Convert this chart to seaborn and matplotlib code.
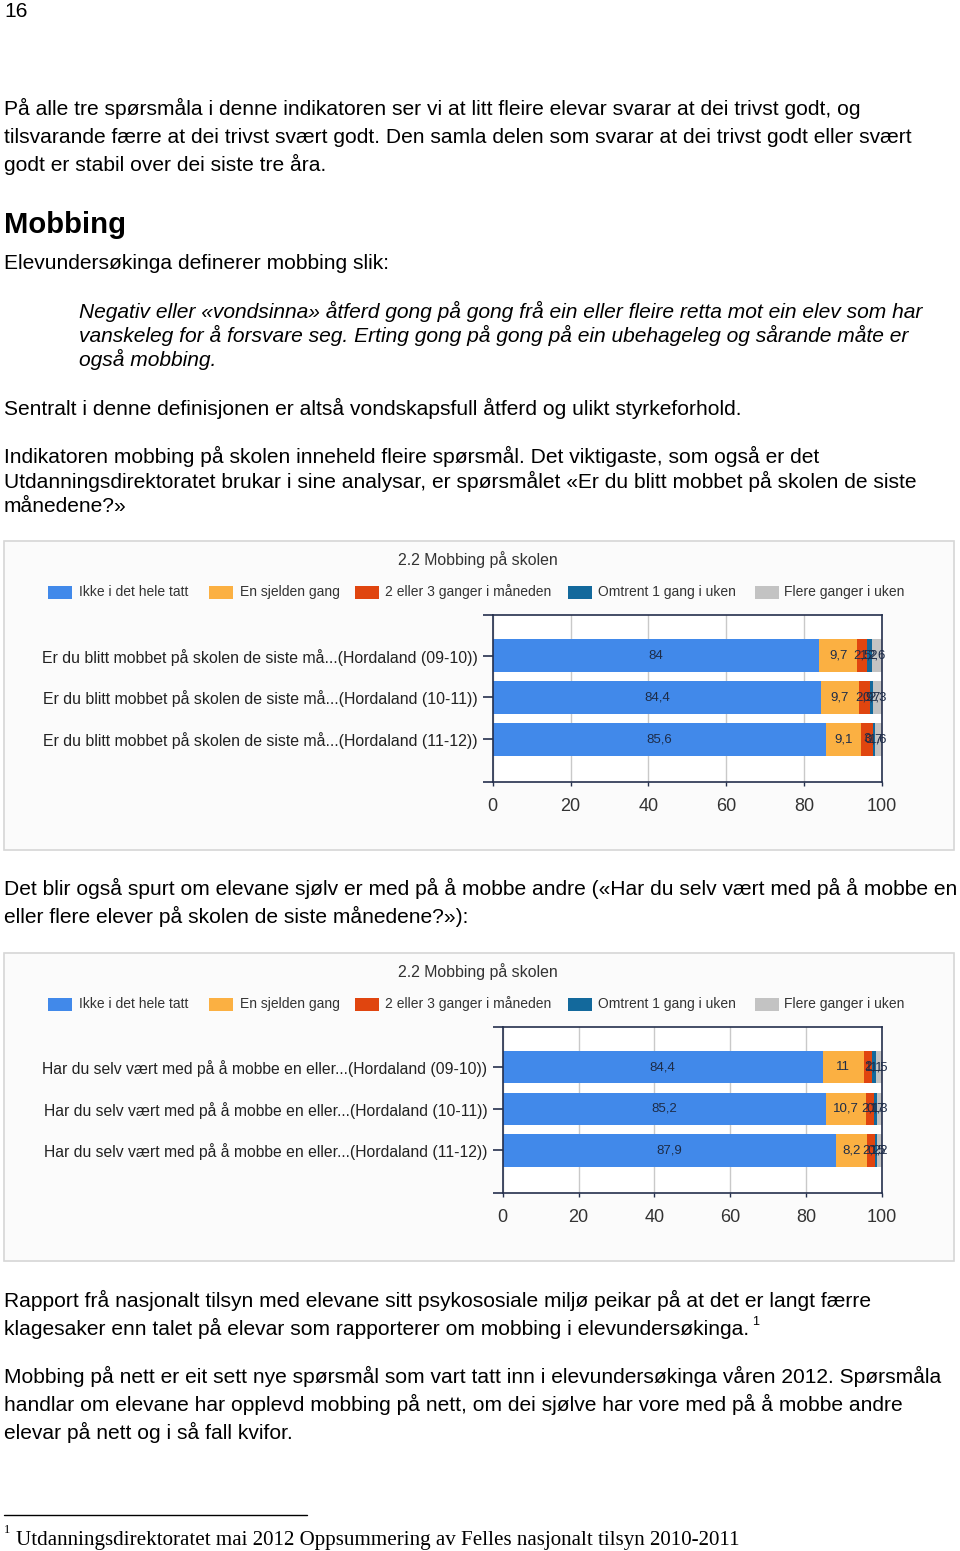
import numpy as np
import pandas as pd
import matplotlib
matplotlib.use("Agg")
import matplotlib.pyplot as plt
from matplotlib.patches import Rectangle
import seaborn as sns

# ---------------- data ----------------
series_names = ["Ikke i det hele tatt", "En sjelden gang", "2 eller 3 ganger i måneden",
                "Omtrent 1 gang i uken", "Flere ganger i uken"]
series_colors = ["#4189ea", "#fbb042", "#e0450f", "#13699c", "#c3c3c3"]

chart_title = "2.2 Mobbing på skolen"

rows1 = ["Er du blitt mobbet på skolen de siste må...(Hordaland (09-10))",
         "Er du blitt mobbet på skolen de siste må...(Hordaland (10-11))",
         "Er du blitt mobbet på skolen de siste må...(Hordaland (11-12))"]
ikke1 = [84.0, 84.4, 85.6]
sjelden1 = [9.7, 9.7, 9.1]
to_tre1 = [2.5, 2.9, 3.0]
omtrent1 = [1.2, 0.7, 0.7]
flere1 = [2.6, 2.3, 1.6]

rows2 = ["Har du selv vært med på å mobbe en eller...(Hordaland (09-10))",
         "Har du selv vært med på å mobbe en eller...(Hordaland (10-11))",
         "Har du selv vært med på å mobbe en eller...(Hordaland (11-12))"]
ikke2 = [84.4, 85.2, 87.9]
sjelden2 = [11.0, 10.7, 8.2]
to_tre2 = [2.0, 2.1, 2.2]
omtrent2 = [1.1, 0.7, 0.5]
flere2 = [1.5, 1.3, 1.2]

x_ticks = [0, 20, 40, 60, 80, 100]

page_number = "16"
para1 = ["På alle tre spørsmåla i denne indikatoren ser vi at litt fleire elevar svarar at dei trivst godt, og",
         "tilsvarande færre at dei trivst svært godt. Den samla delen som svarar at dei trivst godt eller svært",
         "godt er stabil over dei siste tre åra."]
heading = "Mobbing"
para2 = ["Elevundersøkinga definerer mobbing slik:"]
quote = ["Negativ eller «vondsinna» åtferd gong på gong frå ein eller fleire retta mot ein elev som har",
         "vanskeleg for å forsvare seg. Erting gong på gong på ein ubehageleg og sårande måte er",
         "også mobbing."]
para3 = ["Sentralt i denne definisjonen er altså vondskapsfull åtferd og ulikt styrkeforhold."]
para4 = ["Indikatoren mobbing på skolen inneheld fleire spørsmål. Det viktigaste, som også er det",
         "Utdanningsdirektoratet brukar i sine analysar, er spørsmålet «Er du blitt mobbet på skolen de siste",
         "månedene?»"]
para5 = ["Det blir også spurt om elevane sjølv er med på å mobbe andre («Har du selv vært med på å mobbe en",
         "eller flere elever på skolen de siste månedene?»):"]
para6 = ["Rapport frå nasjonalt tilsyn med elevane sitt psykososiale miljø peikar på at det er langt færre",
         "klagesaker enn talet på elevar som rapporterer om mobbing i elevundersøkinga."]
para7 = ["Mobbing på nett er eit sett nye spørsmål som vart tatt inn i elevundersøkinga våren 2012. Spørsmåla",
         "handlar om elevane har opplevd mobbing på nett, om dei sjølve har vore med på å mobbe andre",
         "elevar på nett og i så fall kvifor."]
footnote = "Utdanningsdirektoratet mai 2012 Oppsummering av Felles nasjonalt tilsyn 2010-2011"

# ---------------- setup ----------------
sns.set_theme(style="white")
SANS = "Liberation Sans"
SERIF = "Liberation Serif"
plt.rcParams["font.family"] = [SANS, "DejaVu Sans"]
plt.rcParams["text.color"] = "black"

W, H = 960, 1551
fig = plt.figure(figsize=(W / 100, H / 100), dpi=100)
fig.patch.set_facecolor("white")
renderer = fig.canvas.get_renderer()


def fit_size(s, target_px, **kw):
    t = fig.text(0, 0, s, fontsize=10, **kw)
    w = t.get_window_extent(renderer).width
    t.remove()
    return 10.0 * target_px / w


def ptext(x, y, s, **kw):
    return fig.text(x / W, 1 - y / H, s, **kw)


body_fs = fit_size(para1[0], 858, family=SANS)
ital_fs = fit_size(quote[0], 849, family=SANS, style="italic")
head_fs = fit_size(heading, 122, family=SANS, weight="bold")
foot_fs = fit_size(footnote, 725, family=SERIF)

ptext(4, 17, page_number, fontsize=body_fs, va="baseline", color="black")


def para(lines, x, y0, dy, **kw):
    for i, s in enumerate(lines):
        ptext(x, y0 + i * dy, s, va="baseline", color="black", **kw)


para(para1, 4, 115, 28, fontsize=body_fs)
ptext(4, 233, heading, fontsize=head_fs, weight="bold", va="baseline", color="black")
para(para2, 4, 269, 28, fontsize=body_fs)
para(quote, 79, 318, 24, fontsize=ital_fs, style="italic")
para(para3, 4, 415, 28, fontsize=body_fs)
para(para4, 4, 463, 24.5, fontsize=body_fs)
para(para5, 4, 895, 28, fontsize=body_fs)
para(para6, 4, 1307, 28, fontsize=body_fs)
ptext(752, 1325, "1", fontsize=body_fs * 0.6, va="baseline", color="black")
para(para7, 4, 1383, 28, fontsize=body_fs)

# footnote
fig.add_artist(plt.Line2D([4 / W, 307 / W], [1 - 1515 / H, 1 - 1515 / H], color="black", lw=1))
ptext(4, 1533, "1", fontsize=foot_fs * 0.6, family=SERIF, va="baseline", color="black")
ptext(16, 1545, footnote, fontsize=foot_fs, family=SERIF, va="baseline", color="black")

# ---------------- charts ----------------
title_fs = fit_size(chart_title, 160, family=SANS)
leg_fs = fit_size(series_names[0], 109, family=SANS)
tick_fs = fit_size("100", 30, family=SANS)
leg_sq_x = [48, 209, 355, 568, 755]
leg_tx_x = [79, 240, 385, 598, 784]


def fmt(v):
    return ("%g" % round(v, 1)).replace(".", ",")


def draw_chart(box_top, box_bot, ax_l, ax_r, ax_t, ax_b, rows, series, lab_w):
    # outer frame
    fig.add_artist(Rectangle((4 / W, 1 - box_bot / H), 950 / W, (box_bot - box_top) / H,
                             transform=fig.transFigure, facecolor="#fbfbfb",
                             edgecolor="#d6d6d6", lw=1.2, zorder=0))
    ptext(478, box_top + 19, chart_title, fontsize=title_fs, color="#333333",
          ha="center", va="center")
    ly = box_top + 51
    for i, name in enumerate(series_names):
        fig.add_artist(Rectangle((leg_sq_x[i] / W, 1 - (ly + 6.5) / H), 24 / W, 13 / H,
                                 transform=fig.transFigure, facecolor=series_colors[i],
                                 edgecolor="none", zorder=1))
        ptext(leg_tx_x[i], ly, name, fontsize=leg_fs, color="#333333", va="center")

    ax = fig.add_axes([ax_l / W, 1 - ax_b / H, (ax_r - ax_l) / W, (ax_b - ax_t) / H])
    ax.set_facecolor("white")
    data = np.array(series)
    cum = np.cumsum(data, axis=0)
    for k in range(len(series) - 1, -1, -1):
        df = pd.DataFrame({"row": rows, "value": cum[k]})
        sns.barplot(data=df, x="value", y="row", orient="h", color=series_colors[k],
                    saturation=1, width=0.78, ax=ax, linewidth=0, zorder=2)
    for k in range(len(series)):
        for j in range(len(rows)):
            v = data[k, j]
            ax.text(cum[k, j] - v / 2, j, fmt(v), ha="center", va="center",
                    fontsize=9.5, color="#1d2c48", zorder=5)
    ax.set_xlim(0, 100)
    ax.set_ylim(3.03, -0.97)
    ax.set_xticks(x_ticks)
    ax.set_xticklabels([str(t) for t in x_ticks])
    ax.set_xlabel("")
    ax.set_ylabel("")
    ax.set_axisbelow(True)
    ax.xaxis.grid(True, color="#c9c9c9", lw=1)
    ax.yaxis.grid(False)
    for sp in ax.spines.values():
        sp.set_visible(True)
        sp.set_color("#25304d")
        sp.set_linewidth(1.2)
    ax.set_yticks([-0.97, 3.03], minor=True)
    ax.tick_params(axis="y", which="both", left=True, length=7.5, width=1.2,
                   color="#25304d", pad=3.5)
    ax.tick_params(axis="x", bottom=True, length=3, width=1, color="#25304d",
                   pad=8, labelsize=tick_fs, labelcolor="#333333")
    yfs = fit_size(rows[0], lab_w, family=SANS)
    for lbl in ax.get_yticklabels():
        lbl.set_fontsize(yfs)
        lbl.set_color("#222222")
    return ax


draw_chart(541, 850, 492.7, 881.7, 615, 782.3, rows1,
           [ikke1, sjelden1, to_tre1, omtrent1, flere1], 434)
draw_chart(953, 1261, 502.7, 881.7, 1026.7, 1193.3, rows2,
           [ikke2, sjelden2, to_tre2, omtrent2, flere2], 447)

fig.savefig("out.png", dpi=100, facecolor="white")
